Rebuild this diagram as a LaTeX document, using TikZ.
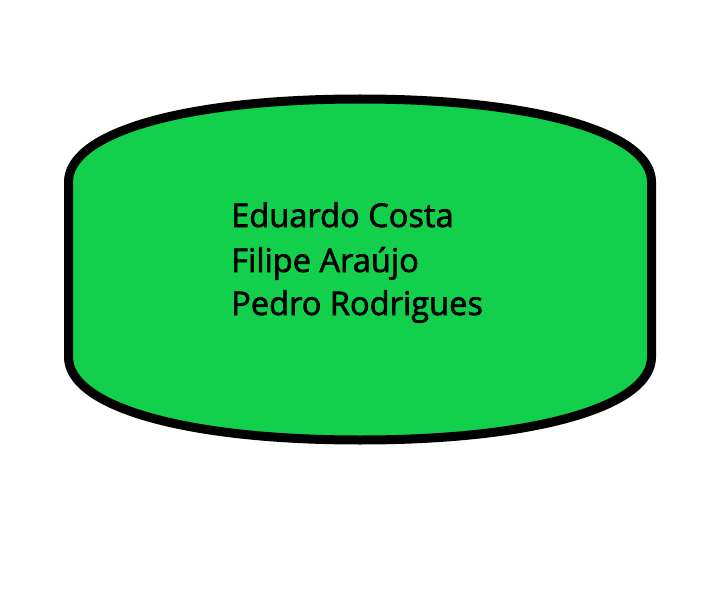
\documentclass[tikz,border=0pt]{standalone}
\usepackage{fontspec}
\setmainfont{Open Sans}
\definecolor{shapegreen}{RGB}{18,208,75}
\begin{document}
\begin{tikzpicture}[x=1pt,y=-1pt,
  outline/.style={draw=black,line width=9pt,fill=shapegreen,line join=round},
  nametext/.style={anchor=base west,inner sep=0pt,font=\fontsize{32.6}{38}\selectfont\addfontfeature{FakeBold=2}}]
\useasboundingbox (0,0) rectangle (710,599);
\fill[white] (0,0) rectangle (710,599);
\draw[outline] (68.5,357) -- (68.5,182)
  .. controls (68.5,133) and (183,99) .. (360,99)
  .. controls (537,99) and (651.5,133) .. (651.5,182)
  -- (651.5,357)
  .. controls (651.5,406) and (537,440) .. (360,440)
  .. controls (183,440) and (68.5,406) .. (68.5,357) -- cycle;
\node[nametext] (l1) at (231,227) {Eduardo Costa};
\node[nametext] (l2) at (231,272) {Filipe Araújo};
\node[nametext] (l3) at (231,315) {Pedro Rodrigues};
\end{tikzpicture}
\end{document}
